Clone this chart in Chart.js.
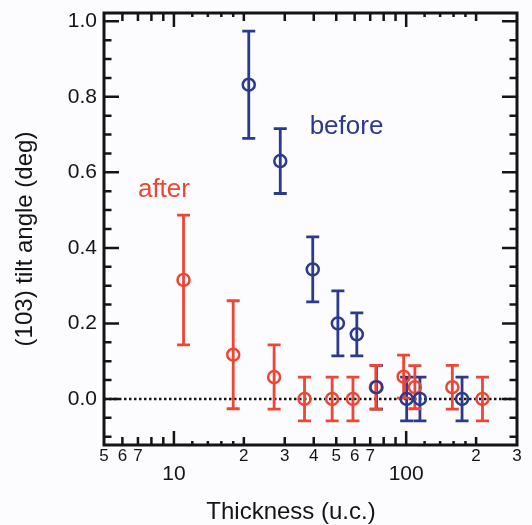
<!DOCTYPE html>
<html>
<head>
<meta charset="utf-8">
<script src="https://cdn.jsdelivr.net/npm/chart.js@4.4.0/dist/chart.umd.min.js"></script>
<style>
    html, body { margin: 0; padding: 0; background: #fcfcfe; }
    #wrap { width: 532px; height: 525px; }
</style>
</head>
<body>
<div id="wrap"><canvas id="tilt-chart"></canvas></div>
<script>
// values
const afterThickness = [11, 18, 27, 36.5, 48, 59, 74, 97.5, 109, 158, 213];
const afterTilt      = [0.315, 0.117, 0.058, 0, 0, 0, 0.031, 0.059, 0.031, 0.031, 0];
const afterError     = [0.172, 0.143, 0.085, 0.058, 0.058, 0.058, 0.058, 0.057, 0.057, 0.058, 0.058];

const beforeThickness = [21, 28.7, 39.6, 50.8, 61.3, 74.5, 100.5, 114.6, 174];
const beforeTilt      = [0.832, 0.63, 0.343, 0.2, 0.171, 0.031, 0, 0, 0];
const beforeError     = [0.142, 0.086, 0.086, 0.086, 0.057, 0.058, 0.058, 0.058, 0.058];

const xTickValues = [5, 6, 7, 8, 9, 10, 20, 30, 40, 50, 60, 70, 80, 90, 100, 200, 300];
const xTickLabels = ['5', '6', '7', '', '', ['', '10'], '2', '3', '4', '5', '6', '7', '', '', ['', '100'], '2', '3'];
const yTickValues = [0, 0.2, 0.4, 0.6, 0.8, 1.0];

const xMajorMarks = [10, 100];
const xMinorMarks = [6, 7, 8, 9, 20, 30, 40, 50, 60, 70, 80, 90, 200];
const xSmallMarks = [12, 14, 16, 18, 120, 140, 160, 180];

const RED = '#ee4634';
const BLUE = '#2c3a8e';
const INK = '#141414';
const FONT = '"Liberation Sans", Arial, Helvetica, sans-serif';

function toPoints(xs, ys, errs) {
    return xs.map((x, i) => ({ x: x, y: ys[i], err: errs[i] }));
}

const decorations = {
    id: 'decorations',
    beforeDatasetsDraw(chart) {
        const { ctx, chartArea: a, scales: { y } } = chart;
        const y0 = y.getPixelForValue(0);

        ctx.save();
        ctx.strokeStyle = INK;
        ctx.lineWidth = 2.5;
        ctx.setLineDash([2.5, 2.5]);
        ctx.beginPath();
        ctx.moveTo(a.left, y0);
        ctx.lineTo(a.right, y0);
        ctx.stroke();
        ctx.restore();

        // error bars
        chart.data.datasets.forEach((ds, i) => {
            const meta = chart.getDatasetMeta(i);
            ctx.save();
            ctx.strokeStyle = ds.borderColor;
            ctx.lineWidth = 2.8;
            meta.data.forEach((pt, j) => {
                const d = ds.data[j];
                const top = y.getPixelForValue(d.y + d.err);
                const bottom = y.getPixelForValue(d.y - d.err);
                ctx.beginPath();
                ctx.moveTo(pt.x, top);
                ctx.lineTo(pt.x, bottom);
                ctx.moveTo(pt.x - 6.5, top);
                ctx.lineTo(pt.x + 6.5, top);
                ctx.moveTo(pt.x - 6.5, bottom);
                ctx.lineTo(pt.x + 6.5, bottom);
                ctx.stroke();
            });
            ctx.restore();
        });
    },
    afterDraw(chart) {
        const { ctx, chartArea: a, scales: { x, y } } = chart;
        ctx.save();
        ctx.strokeStyle = INK;
        ctx.lineWidth = 3;
        ctx.strokeRect(a.left, a.top, a.right - a.left, a.bottom - a.top);

        ctx.lineWidth = 2.5;
        ctx.beginPath();
        const xMark = (v, len) => {
            const px = x.getPixelForValue(v);
            ctx.moveTo(px, a.bottom);
            ctx.lineTo(px, a.bottom - len);
            ctx.moveTo(px, a.top);
            ctx.lineTo(px, a.top + len);
        };
        xMajorMarks.forEach(v => xMark(v, 14));
        xMinorMarks.forEach(v => xMark(v, 8));
        xSmallMarks.forEach(v => xMark(v, 4));

        for (let k = -2; k <= 20; k++) {
            const py = y.getPixelForValue(k * 0.05);
            const len = k % 4 === 0 ? 15 : 7.5;
            ctx.moveTo(a.left, py);
            ctx.lineTo(a.left + len, py);
            ctx.moveTo(a.right, py);
            ctx.lineTo(a.right - len, py);
        }
        ctx.stroke();

        // axis titles
        ctx.fillStyle = INK;
        ctx.font = '24px ' + FONT;
        ctx.textAlign = 'center';
        ctx.textBaseline = 'middle';
        ctx.fillText('Thickness (u.c.)', 291, 512);
        ctx.save();
        ctx.translate(25, 239);
        ctx.rotate(-Math.PI / 2);
        ctx.fillText('(103) tilt angle (deg)', 0, 0);
        ctx.restore();

        // series labels
        ctx.font = '26px ' + FONT;
        ctx.textAlign = 'left';
        ctx.textBaseline = 'alphabetic';
        ctx.fillStyle = RED;
        ctx.fillText('after', x.getPixelForValue(7), y.getPixelForValue(0.535));
        ctx.fillStyle = BLUE;
        ctx.fillText('before', x.getPixelForValue(38.4), y.getPixelForValue(0.702));
        ctx.restore();
    }
};

new Chart(document.getElementById('tilt-chart'), {
    type: 'scatter',
    data: {
        datasets: [
            {
                label: 'before',
                data: toPoints(beforeThickness, beforeTilt, beforeError),
                borderColor: BLUE,
                backgroundColor: 'rgba(0,0,0,0)',
                pointRadius: 6,
                borderWidth: 2.5
            },
            {
                label: 'after',
                data: toPoints(afterThickness, afterTilt, afterError),
                borderColor: RED,
                backgroundColor: 'rgba(0,0,0,0)',
                pointRadius: 6,
                borderWidth: 2.5
            }
        ]
    },
    options: {
        responsive: true,
        maintainAspectRatio: false,
        animation: false,
        layout: { padding: { left: 0, right: 15, top: 13, bottom: 0 } },
        plugins: {
            legend: { display: false },
            tooltip: { enabled: false }
        },
        scales: {
            x: {
                type: 'logarithmic',
                min: 5,
                max: 300,
                grid: { display: false, drawTicks: false },
                border: { display: false },
                afterBuildTicks: scale => {
                    scale.ticks = xTickValues.map(v => ({ value: v }));
                },
                afterFit: scale => {
                    scale.height = 80;
                    scale.paddingLeft = 0;
                    scale.paddingRight = 0;
                },
                ticks: {
                    autoSkip: false,
                    maxRotation: 0,
                    padding: 2,
                    color: INK,
                    font: c => {
                        const major = Array.isArray(xTickLabels[c.index]);
                        return { family: FONT, size: major ? 21 : 17, lineHeight: major ? 0.86 : 1.1 };
                    },
                    callback: (value, index) => xTickLabels[index]
                }
            },
            y: {
                min: -0.122,
                max: 1.022,
                grid: { display: false, drawTicks: false },
                border: { display: false },
                afterBuildTicks: scale => {
                    scale.ticks = yTickValues.map(v => ({ value: v }));
                },
                afterFit: scale => {
                    scale.width = 104;
                    scale.paddingTop = 0;
                    scale.paddingBottom = 0;
                },
                ticks: {
                    padding: 7,
                    color: INK,
                    font: { family: FONT, size: 21 },
                    callback: value => value.toFixed(1)
                }
            }
        }
    },
    plugins: [decorations]
});
</script>
</body>
</html>
